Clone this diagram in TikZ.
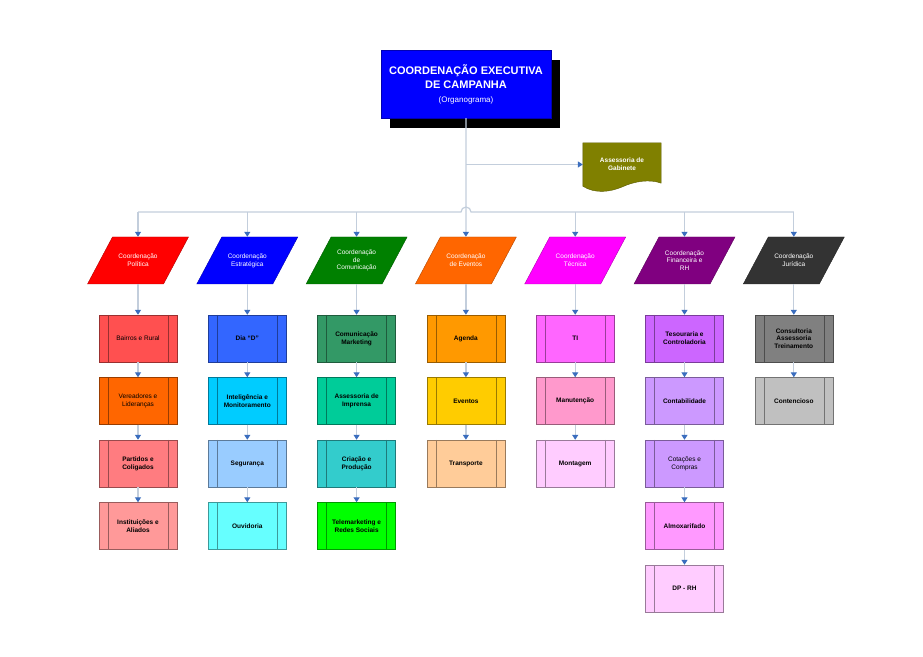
\documentclass[tikz,border=0pt]{standalone}
\usepackage{fontspec}
\setmainfont{Liberation Sans}
\usetikzlibrary{arrows.meta,positioning,calc,shadows,backgrounds}
\definecolor{lnk}{HTML}{C3CEDC}
\definecolor{tip}{HTML}{3A6DBE}
\definecolor{cpol}{HTML}{FF0000}
\definecolor{cest}{HTML}{0000FF}
\definecolor{ccom}{HTML}{008000}
\definecolor{ceve}{HTML}{FF6600}
\definecolor{ctec}{HTML}{FF00FF}
\definecolor{cfin}{HTML}{800080}
\definecolor{cjur}{HTML}{333333}
\definecolor{olive}{HTML}{808000}
\definecolor{ured}{HTML}{FF5050}
\definecolor{uorange}{HTML}{FF6600}
\definecolor{usalmon}{HTML}{FF7C80}
\definecolor{urose}{HTML}{FF9999}
\definecolor{uroyal}{HTML}{3366FF}
\definecolor{usky}{HTML}{00CCFF}
\definecolor{upale}{HTML}{99CCFF}
\definecolor{uaqua}{HTML}{66FFFF}
\definecolor{usea}{HTML}{339966}
\definecolor{uteal}{HTML}{00CC99}
\definecolor{uturq}{HTML}{33CCCC}
\definecolor{ulime}{HTML}{00FF00}
\definecolor{uamber}{HTML}{FF9900}
\definecolor{ugold}{HTML}{FFCC00}
\definecolor{utan}{HTML}{FFCC99}
\definecolor{upink}{HTML}{FF66FF}
\definecolor{ublush}{HTML}{FF99CC}
\definecolor{ulilac}{HTML}{FFCCFF}
\definecolor{uviolet}{HTML}{CC66FF}
\definecolor{ulavender}{HTML}{CC99FF}
\definecolor{uorchid}{HTML}{FF99FF}
\definecolor{ugrey}{HTML}{808080}
\definecolor{usilver}{HTML}{C0C0C0}
\tikzset{
  chief/.style={draw=blue!70!black,fill=blue,text=white,minimum width=170pt,minimum height=68pt,align=center,inner sep=2pt,
    font=\fontsize{11}{14}\selectfont\bfseries,drop shadow={shadow xshift=9pt,shadow yshift=-10pt,fill=black,opacity=1}},
  head/.style={minimum width=76pt,minimum height=47pt,inner sep=0pt,align=center,text=white,font=\fontsize{6.5}{7.8}\selectfont},
  unit/.style={rectangle,draw=#1!60!black,fill=#1,minimum width=78pt,minimum height=47pt,align=center,inner sep=1pt,
    path picture={\draw[#1!60!black] ([xshift=9pt]path picture bounding box.north west) -- ([xshift=9pt]path picture bounding box.south west)
      ([xshift=-9pt]path picture bounding box.north east) -- ([xshift=-9pt]path picture bounding box.south east);}},
  bf/.style={font=\fontsize{6.5}{7.8}\selectfont\bfseries},
  md/.style={font=\fontsize{6.5}{7.8}\selectfont},
  conn/.style={draw=lnk,line width=1.2pt},
  arr/.style={conn,-{Triangle[width=6pt,length=5pt,color=tip]}},
}
\begin{document}
\begin{tikzpicture}[x=1pt,y=1pt]
\useasboundingbox (0,0) rectangle (923,656);
\node[chief] (top) at (466,572) {COORDENAÇÃO EXECUTIVA\\DE CAMPANHA\\{\fontsize{8}{10}\selectfont\mdseries(Organograma)}};
\node[minimum width=78pt,minimum height=43pt,inner sep=0pt,align=center,text=white,bf] (gab) at (622,491.5) {Assessoria de\\Gabinete};
\begin{scope}[on background layer]
\filldraw[fill=olive,draw=olive!70!black] (gab.south west) -- (gab.north west) -- (gab.north east) -- ([yshift=3pt]gab.south east)
  .. controls (650,477) and (635,475) .. (622,469) .. controls (610,464) and (595,462) .. (gab.south west) -- cycle;
\end{scope}
\coordinate (j) at (466,444);
\foreach \i/\lab/\col in {0/{Coordenação\\Política}/cpol,1/{Coordenação\\Estratégica}/cest,2/{Coordenação\\de\\Comunicação}/ccom,
  3/{Coordenação\\de Eventos}/ceve,4/{Coordenação\\Técnica}/ctec,5/{Coordenação\\Financeira e\\RH}/cfin,6/{Coordenação\\Jurídica}/cjur} {
  \filldraw[fill=\col,draw=\col!70!black] ({138+109.3*\i-50.5},372) -- ++(76,0) -- ++(25,47) -- ++(-76,0) -- cycle;
  \node[head] (c\i) at ({138+109.3*\i},395.5) {\lab};
}
\draw[arr] (top.south) -- (c3.north);
\draw[arr] (top.south |- gab.west) -- (gab.west);
\draw[conn] (c0.north |- j) -- ([xshift=-5pt]j) arc[start angle=180,end angle=0,radius=5pt] -- (c6.north |- j);
\foreach \i in {0,1,2,4,5,6} \draw[arr] (c\i.north |- j) -- (c\i.north);
\foreach \i/\j/\lab/\col/\w in {
  0/0/{Bairros e Rural}/ured/md,0/1/{Vereadores e\\Lideranças}/uorange/md,0/2/{Partidos e\\Coligados}/usalmon/bf,0/3/{Instituições e\\Aliados}/urose/bf,
  1/0/{Dia “D”}/uroyal/bf,1/1/{Inteligência e\\Monitoramento}/usky/bf,1/2/{Segurança}/upale/bf,1/3/{Ouvidoria}/uaqua/bf,
  2/0/{Comunicação\\Marketing}/usea/bf,2/1/{Assessoria de\\Imprensa}/uteal/bf,2/2/{Criação e\\Produção}/uturq/bf,2/3/{Telemarketing e\\Redes Sociais}/ulime/bf,
  3/0/{Agenda}/uamber/bf,3/1/{Eventos}/ugold/bf,3/2/{Transporte}/utan/bf,
  4/0/{TI}/upink/bf,4/1/{Manutenção}/ublush/bf,4/2/{Montagem}/ulilac/bf,
  5/0/{Tesouraria e\\Controladoria}/uviolet/bf,5/1/{Contabilidade}/ulavender/bf,5/2/{Cotações e\\Compras}/ulavender/md,5/3/{Almoxarifado}/uorchid/bf,5/4/{DP - RH}/ulilac/bf,
  6/0/{Consultoria\\Assessoria\\Treinamento}/ugrey/bf,6/1/{Contencioso}/usilver/bf} {
  \node[unit=\col,\w] (b\i\j) at ({138+109.3*\i},{317.5-62.5*\j}) {\lab};
  \ifnum\j=0 \def\up{c\i}\else \pgfmathtruncatemacro\k{\j-1}\edef\up{b\i\k}\fi
  \draw[arr] (\up.south) -- (b\i\j.north);
}
\end{tikzpicture}
\end{document}
